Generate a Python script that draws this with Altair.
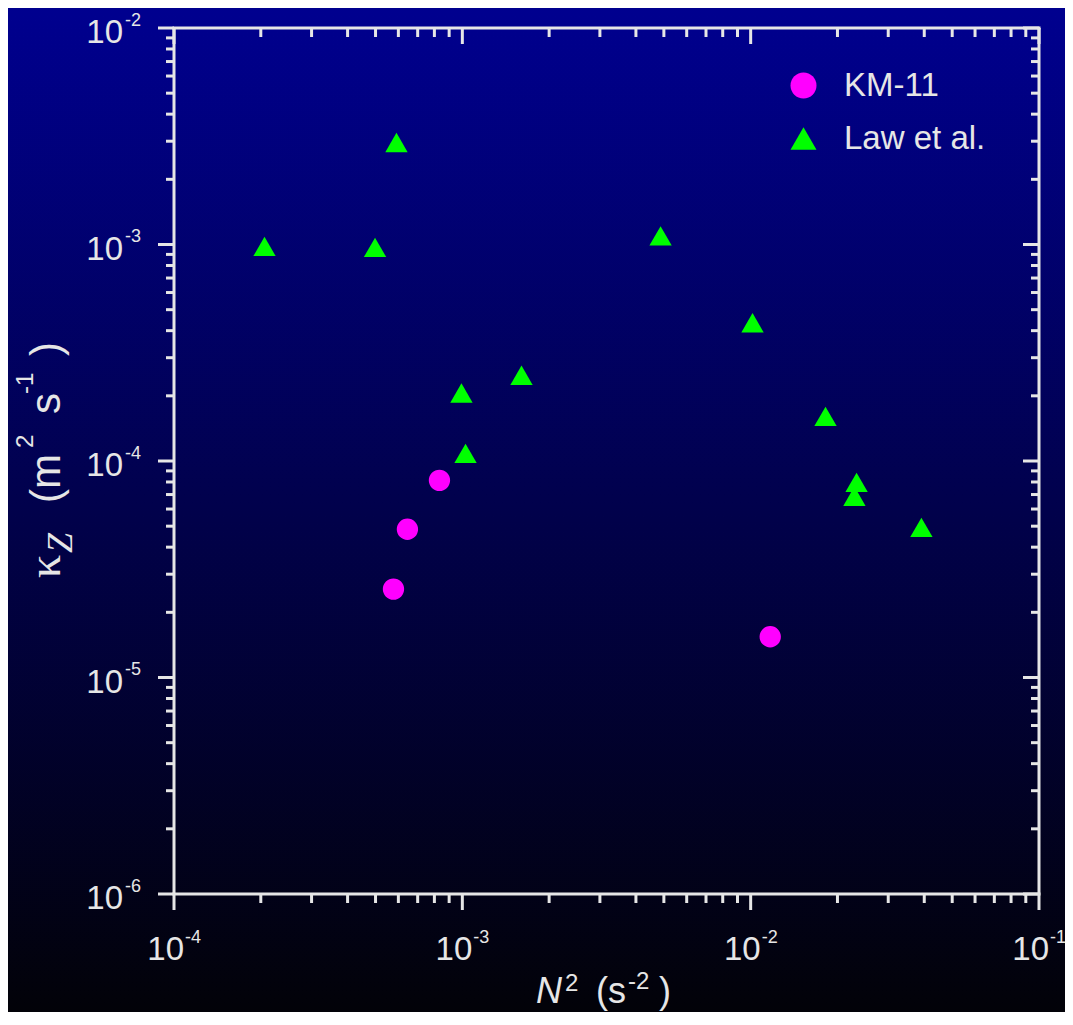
import altair as alt
import pandas as pd

# ---- data ----
km_x = [8.33e-4, 6.45e-4, 5.77e-4, 1.169e-2]
km_y = [8.14e-5, 4.84e-5, 2.56e-5, 1.543e-5]
law_x = [2.06e-4, 4.98e-4, 5.91e-4, 9.93e-4, 1.026e-3, 1.604e-3,
         4.87e-3, 1.015e-2, 1.818e-2, 2.33e-2, 2.29e-2, 3.91e-2]
law_y = [9.80e-4, 9.70e-4, 2.96e-3, 2.06e-4, 1.085e-4, 2.49e-4,
         1.096e-3, 4.35e-4, 1.608e-4, 7.97e-5, 6.87e-5, 4.94e-5]
series_names = ["KM-11", "Law et al."]

x_major = [1e-4, 1e-3, 1e-2, 1e-1]
x_exps = ["-4", "-3", "-2", "-1"]
y_major = [1e-6, 1e-5, 1e-4, 1e-3, 1e-2]
y_exps = ["-6", "-5", "-4", "-3", "-2"]
x_minor = [m * 10.0 ** k for k in (-4, -3, -2) for m in range(2, 10)]
y_minor = [m * 10.0 ** k for k in (-6, -5, -4, -3) for m in range(2, 10)]

# ---- layout / style ----
W, H = 865, 866
PL, PT, PR, PB = 166, 20, 26, 118
FG = "#e6e6e6"
SANS = "Liberation Sans"
SERIF = "Liberation Serif"

xs = alt.Scale(type="log", domain=[1e-4, 1e-1], nice=False)
ys = alt.Scale(type="log", domain=[1e-6, 1e-2], nice=False)

one = pd.DataFrame({"a": [0]})

bg = alt.Chart(one).mark_rect(
    color=alt.LinearGradient(
        gradient="linear",
        stops=[alt.GradientStop(offset=0, color="#00008f"),
               alt.GradientStop(offset=1, color="#020208")],
        x1=0, x2=0, y1=0, y2=1),
    strokeWidth=0,
).encode(x=alt.value(-PL), x2=alt.value(W + PR), y=alt.value(-PT), y2=alt.value(H + PB))


def xt(vals, y0, y1):
    return alt.Chart(pd.DataFrame({"v": vals})).mark_rule(color=FG, strokeWidth=3).encode(
        x=alt.X("v:Q", scale=xs, axis=None), y=alt.value(y0), y2=alt.value(y1))


def yt(vals, x0, x1):
    return alt.Chart(pd.DataFrame({"v": vals})).mark_rule(color=FG, strokeWidth=3).encode(
        y=alt.Y("v:Q", scale=ys, axis=None), x=alt.value(x0), x2=alt.value(x1))


ticks = [
    xt(x_major, H, H + 16), xt(x_minor, H, H + 9),
    xt(x_major, 0, 16), xt(x_minor, 0, 9),
    yt(y_major, 0, -16), yt(y_minor, 0, -8),
    yt(y_major, W, W - 16), yt(y_minor, W, W - 8),
]

frame = [
    alt.Chart(one).mark_rule(color=FG, strokeWidth=3).encode(
        x=alt.value(-1.5), x2=alt.value(W + 1.5), y=alt.value(0)),
    alt.Chart(one).mark_rule(color=FG, strokeWidth=3).encode(
        x=alt.value(-1.5), x2=alt.value(W + 1.5), y=alt.value(H)),
    alt.Chart(one).mark_rule(color=FG, strokeWidth=3).encode(
        y=alt.value(0), y2=alt.value(H), x=alt.value(0)),
    alt.Chart(one).mark_rule(color=FG, strokeWidth=3).encode(
        y=alt.value(0), y2=alt.value(H), x=alt.value(W)),
]

xlab = pd.DataFrame({"v": x_major, "e": x_exps})
ylab = pd.DataFrame({"v": y_major, "e": y_exps})

labels = [
    alt.Chart(xlab).mark_text(text="10", font=SANS, fontSize=33, color=FG,
                              align="right", baseline="alphabetic", dx=10).encode(
        x=alt.X("v:Q", scale=xs, axis=None), y=alt.value(H + 66)),
    alt.Chart(xlab).mark_text(font=SANS, fontSize=18, color=FG,
                              align="left", baseline="alphabetic", dx=11).encode(
        x=alt.X("v:Q", scale=xs, axis=None), y=alt.value(H + 49), text="e:N"),
    alt.Chart(ylab).mark_text(text="10", font=SANS, fontSize=33, color=FG,
                              align="right", baseline="alphabetic", dy=15).encode(
        y=alt.Y("v:Q", scale=ys, axis=None), x=alt.value(-51)),
    alt.Chart(ylab).mark_text(font=SANS, fontSize=18, color=FG,
                              align="left", baseline="alphabetic", dy=-2.5).encode(
        y=alt.Y("v:Q", scale=ys, axis=None), x=alt.value(-49), text="e:N"),
]


def txt(s, x, y, size, font=SANS, style="normal", angle=0):
    return alt.Chart(one).mark_text(
        text=s, font=font, fontSize=size, fontStyle=style, color=FG,
        align="left", baseline="alphabetic", angle=angle,
    ).encode(x=alt.value(x), y=alt.value(y))


# x title: N^2 (s^-2)
xtitle = [
    txt("N", 536 - 174, 1003 - 28, 36, style="italic"),
    txt("2", 565 - 174, 991 - 28, 24),
    txt("(s", 596 - 174, 1003 - 28, 36),
    txt("-2", 628 - 174, 989 - 28, 24),
    txt(")", 659 - 174, 1003 - 28, 36),
]

# y title: kappa_Z (m^2 s^-1), rotated
ytitle = [
    txt("κ", 60 - 174, 578 - 28, 46, font=SERIF, angle=270),
    txt("Z", 72 - 174, 553 - 28, 36, font=SERIF, style="italic", angle=270),
    txt("(m", 60 - 174, 503 - 28, 42, angle=270),
    txt("2", 33 - 174, 448 - 28, 24, angle=270),
    txt("s", 60 - 174, 414 - 28, 42, angle=270),
    txt("-1", 33 - 174, 394 - 28, 24, angle=270),
    txt(")", 60 - 174, 356 - 28, 42, angle=270),
]

color_scale = alt.Scale(domain=series_names, range=["#ff00ff", "#00ff00"])
shape_scale = alt.Scale(domain=series_names, range=["circle", "triangle-up"])
leg = alt.Legend(orient="none", legendX=613, legendY=41, title=None,
                 labelFont=SANS, labelFontSize=33, labelColor=FG,
                 symbolSize=676, symbolStrokeWidth=0, labelOffset=24,
                 rowPadding=19, padding=0, symbolOpacity=1)

km_df = pd.DataFrame({"x": km_x, "y": km_y, "series": series_names[0]})
law_df = pd.DataFrame({"x": law_x, "y": law_y, "series": series_names[1]})


def pts(df, size):
    return alt.Chart(df).mark_point(filled=True, size=size, opacity=1, strokeWidth=0).encode(
        x=alt.X("x:Q", scale=xs, axis=None),
        y=alt.Y("y:Q", scale=ys, axis=None),
        color=alt.Color("series:N", scale=color_scale, legend=leg),
        shape=alt.Shape("series:N", scale=shape_scale, legend=leg),
    )


chart = alt.layer(
    bg, *ticks, *frame, *labels, *xtitle, *ytitle,
    pts(law_df, 500), pts(km_df, 455),
).properties(
    width=W, height=H,
    padding={"left": PL, "top": PT, "right": PR, "bottom": PB},
    autosize=alt.AutoSizeParams(type="none"),
    background="#000000",
).configure_view(stroke=None)

chart.save("out.html", embed_options={"renderer": "svg", "actions": False})
